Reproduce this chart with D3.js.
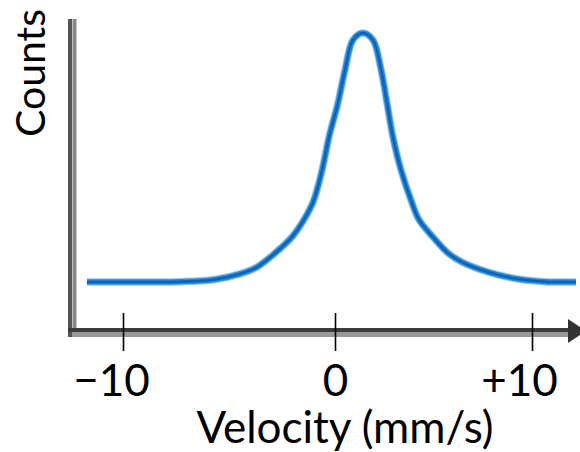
<!DOCTYPE html>
<html>
<head>
<meta charset="utf-8">
<script src="https://cdn.jsdelivr.net/npm/d3@7"></script>
<style>
  body { margin: 0; background: #fff; }
  svg { display: block; }
  text { font-family: Lato, "Open Sans", sans-serif; fill: #000; }
</style>
</head>
<body>
<svg width="580" height="452"></svg>
<script>
// spectrum (velocity in mm/s, counts in arbitrary units)
const velocity = [-11.7, -7.31, -5.66, -4.48, -3.68, -2.83, -2.03, -1.47, -1.02, -0.61, -0.28,
                  0.15, 0.51, 0.91, 1.42, 1.93, 2.34, 2.64, 2.94, 3.35, 3.88,
                  4.27, 4.97, 5.74, 6.45, 7.77, 9.24, 10.66, 12.23];
const counts   = [15.5, 15.6, 16.3, 18.1, 20.3, 24.8, 30.0, 35.5, 41.5, 51.6, 62.3,
                  73.2, 83.9, 93.5, 95.8, 93.5, 83.9, 73.2, 62.3, 51.6, 41.5,
                  35.5, 30.0, 24.8, 21.9, 18.7, 16.5, 15.6, 15.5];
const tickValues = [-10, 0, 10];
const tickLabels = ["\u221210", "0", "+10"];
const tickShift = [-12, 0, -13];

const svg = d3.select("svg");

// the original axis is not quite linear, so use a piecewise scale
let xScale = d3.scaleLinear().domain([-10, 0, 10]).range([123, 335, 532]);
let yScale = d3.scaleLinear().domain([0, 100]).range([330, 20]);

// y axis (no ticks)
let yAxis = d3.axisLeft(yScale).ticks(0).tickSizeOuter(0);
svg.append("g").attr("id", "yAxisG")
  .attr("transform", "translate(70, 0)")
  .call(yAxis);
d3.select("#yAxisG .domain").remove();
svg.append("line")
  .attr("x1", 70).attr("x2", 70).attr("y1", 19).attr("y2", 337)
  .attr("stroke", "#555").attr("stroke-width", 4);
svg.append("line")
  .attr("x1", 74.5).attr("x2", 74.5).attr("y1", 19).attr("y2", 337)
  .attr("stroke", "#8a8a8a").attr("stroke-width", 4);

// x axis line + arrow
svg.append("line")
  .attr("x1", 68).attr("x2", 572).attr("y1", 330).attr("y2", 330)
  .attr("stroke", "#3c3c3c").attr("stroke-width", 4);
svg.append("line")
  .attr("x1", 72).attr("x2", 572).attr("y1", 334.5).attr("y2", 334.5)
  .attr("stroke", "#999").attr("stroke-width", 5);
svg.append("path")
  .attr("d", "M568,319 L586,331 L568,343 Z")
  .attr("fill", "#333");

let xAxis = d3.axisBottom(xScale)
  .tickValues(tickValues)
  .tickFormat((d, i) => tickLabels[i])
  .tickSizeInner(0).tickSizeOuter(0);
let xAxisG = svg.append("g").attr("id", "xAxisG")
  .attr("transform", "translate(0, 313)")
  .call(xAxis);
xAxisG.select(".domain").remove();
xAxisG.selectAll(".tick line")
  .attr("y1", 0).attr("y2", 38)
  .attr("stroke", "#000").attr("stroke-width", 1.6);
xAxisG.selectAll(".tick text")
  .attr("y", 83).attr("dy", 0).attr("dx", (d, i) => tickShift[i])
  .style("font-size", "44px")
  .style("font-family", "Lato, 'Open Sans', sans-serif")
  .attr("fill", "#000");

// curve
let line = d3.line()
  .x((d, i) => xScale(velocity[i]))
  .y(d => yScale(d))
  .curve(d3.curveCatmullRom.alpha(0.5));

svg.append("path")
  .attr("d", line(counts))
  .attr("fill", "none").attr("stroke", "#9cc6ee")
  .attr("stroke-width", 7.5).attr("stroke-linecap", "butt");
svg.append("path")
  .attr("d", line(counts))
  .attr("fill", "none").attr("stroke", "#2a8ccf")
  .attr("stroke-width", 5.5).attr("stroke-linecap", "butt");
svg.append("path")
  .attr("d", line(counts))
  .attr("fill", "none").attr("stroke", "#0a62bb")
  .attr("stroke-width", 2.5).attr("stroke-linecap", "butt");

// labels
svg.append("text")
  .attr("x", 345).attr("y", 443)
  .attr("text-anchor", "middle")
  .style("font-size", "44px")
  .text("Velocity (mm/s)");

svg.append("text")
  .attr("transform", "translate(45, 73) rotate(-90)")
  .attr("text-anchor", "middle")
  .style("font-size", "41px")
  .text("Counts");
</script>
</body>
</html>
